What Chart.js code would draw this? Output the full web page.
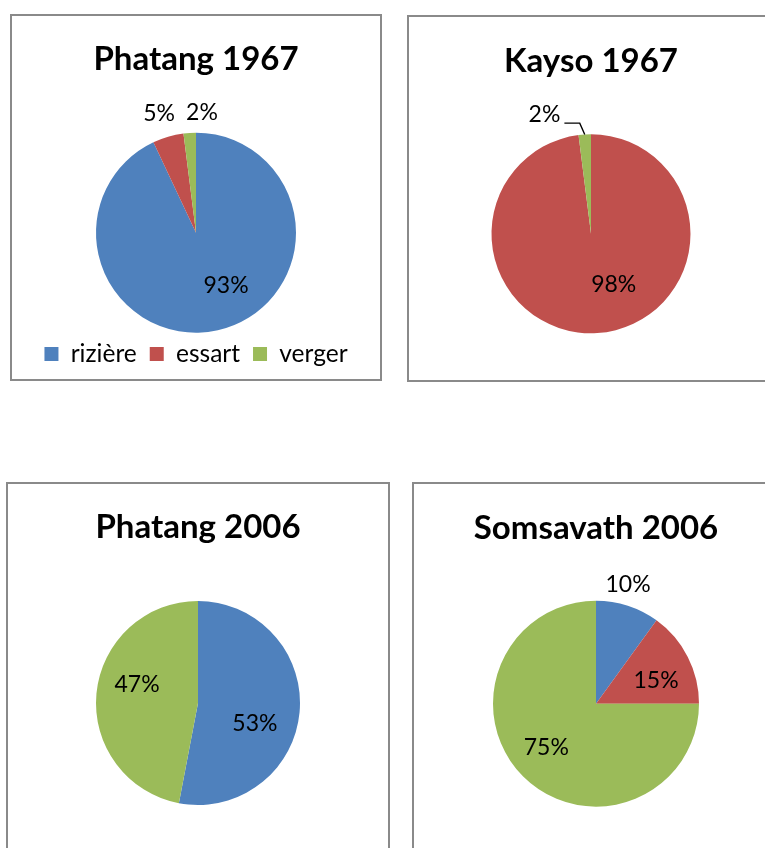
<!DOCTYPE html>
<html>
<head>
<meta charset="utf-8">
<script src="https://cdn.jsdelivr.net/npm/chart.js@4.4.1/dist/chart.umd.min.js"></script>
<style>
    body { margin: 0; background: #fff; width: 765px; height: 848px; overflow: hidden; position: relative; }
    .box { position: absolute; border: 2px solid #8a8a8a; box-sizing: border-box; background: #fff; }
    .box canvas { display: block; }
</style>
</head>
<body>
<div class="box" style="left:10px;top:14px;width:372px;height:367px"><canvas id="c1" width="368" height="363"></canvas></div>
<div class="box" style="left:407px;top:15px;width:368px;height:367px"><canvas id="c2" width="364" height="363"></canvas></div>
<div class="box" style="left:6px;top:482px;width:384px;height:380px"><canvas id="c3" width="380" height="376"></canvas></div>
<div class="box" style="left:412px;top:482px;width:368px;height:380px"><canvas id="c4" width="364" height="376"></canvas></div>

<script>
const categories = ['rizière', 'essart', 'verger'];
const colors = ['#4F81BD', '#C0504D', '#9BBB59'];

const phatang1967 = [93, 5, 2];
const kayso1967 = [0, 98, 2];
const phatang2006 = [53, 0, 47];
const somsavath2006 = [10, 15, 75];

// draws the "xx%" labels, placed from each slice's own angle
const pieLabels = {
    id: 'pieLabels',
    afterDatasetsDraw(chart, args, opts) {
        const ctx = chart.ctx;
        const meta = chart.getDatasetMeta(0);
        const values = chart.data.datasets[0].data;
        ctx.save();
        ctx.font = '23px Lato';
        ctx.fillStyle = '#000';
        ctx.strokeStyle = '#000';
        ctx.lineWidth = 1.4;
        ctx.textAlign = 'center';
        ctx.textBaseline = 'middle';
        meta.data.forEach((arc, i) => {
            if (!values[i]) return;
            const p = opts.place[i];
            const {x, y, startAngle, endAngle, outerRadius} =
                arc.getProps(['x', 'y', 'startAngle', 'endAngle', 'outerRadius'], true);
            const mid = (startAngle + endAngle) / 2;
            const lx = x + Math.cos(mid) * outerRadius * p.f + p.dx;
            const ly = y + Math.sin(mid) * outerRadius * p.f + p.dy;
            const text = values[i] + '%';
            ctx.fillText(text, lx, ly);
            if (p.leader) {
                const w = ctx.measureText(text).width;
                const ex = x + Math.cos(mid) * outerRadius;
                const ey = y + Math.sin(mid) * outerRadius;
                ctx.beginPath();
                ctx.moveTo(lx + w / 2 + 4, ly + 8.5);
                ctx.lineTo(ex - 5, ly + 8.5);
                ctx.lineTo(ex, ey);
                ctx.stroke();
            }
        });
        ctx.restore();
    }
};

function makePie(id, title, values, opt) {
    return new Chart(document.getElementById(id), {
        type: 'pie',
        data: {
            labels: categories,
            datasets: [{
                data: values,
                backgroundColor: colors,
                borderWidth: 0,
                radius: opt.radius
            }]
        },
        options: {
            responsive: false,
            animation: false,
            events: [],
            layout: { padding: { bottom: opt.bottom } },
            plugins: {
                title: {
                    display: true,
                    text: title,
                    color: '#000',
                    font: { family: 'Lato', size: 33, weight: 'bold', lineHeight: 1.2 },
                    padding: { top: opt.titleTop, bottom: opt.titleBottom }
                },
                legend: {
                    display: !!opt.legend,
                    position: 'bottom',
                    labels: {
                        color: '#000',
                        boxWidth: 14,
                        boxHeight: 14,
                        padding: 13,
                        font: { family: 'Lato', size: 24.5 }
                    }
                },
                tooltip: { enabled: false },
                pieLabels: { place: opt.place }
            }
        },
        plugins: [pieLabels]
    });
}

document.addEventListener('DOMContentLoaded', function() {
    makePie('c1', 'Phatang 1967', phatang1967, {
        radius: 100, titleTop: 23.4, titleBottom: 57.65, bottom: 2.75, legend: true,
        place: [{f: 0.6, dx: 17, dy: -6}, {f: 1.2, dx: -3.5, dy: -3.5}, {f: 1.2, dx: 13.5, dy: 0}]
    });
    makePie('c2', 'Kayso 1967', kayso1967, {
        radius: 99.5, titleTop: 24.9, titleBottom: 37.9, bottom: 31.8,
        place: [{f: 0.6, dx: 0, dy: 0}, {f: 0.6, dx: 19, dy: -9}, {f: 1.2, dx: -39, dy: 0, leader: true}]
    });
    makePie('c3', 'Phatang 2006', phatang2006, {
        radius: 102, titleTop: 23.4, titleBottom: 39.4, bottom: 40.4,
        place: [{f: 0.6, dx: -4, dy: 15}, {f: 0.6, dx: 0, dy: 0}, {f: 0.6, dx: 0, dy: -13}]
    });
    makePie('c4', 'Somsavath 2006', somsavath2006, {
        radius: 103, titleTop: 24.9, titleBottom: 37.9, bottom: 39,
        place: [{f: 1.15, dx: -4.6, dy: -6}, {f: 0.6, dx: 5, dy: 5.4}, {f: 0.6, dx: -6, dy: 0}]
    });
});
</script>
</body>
</html>
